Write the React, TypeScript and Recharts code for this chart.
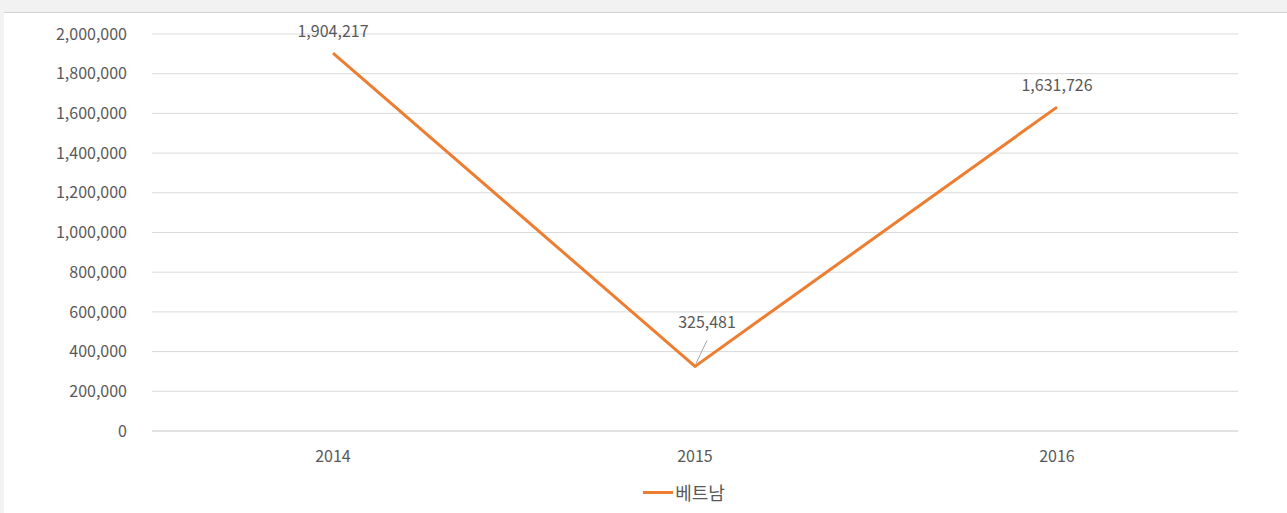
import { LineChart, Line, XAxis, YAxis, CartesianGrid, Legend, LabelList } from "recharts";

const years = ["2014", "2015", "2016"];
const vietnam = [1904217, 325481, 1631726];
const yTicks = [0, 200000, 400000, 600000, 800000, 1000000, 1200000, 1400000, 1600000, 1800000, 2000000];

const data = years.map((year, i) => ({ year, value: vietnam[i] }));

const FONT = "'Malgun Gothic', 'Noto Sans CJK KR', sans-serif";
const TEXT = "#595959";
const ORANGE = "#ED7D31";

const fmt = (v: number) => v.toLocaleString("en-US");

function ValueLabel(props: any) {
  const { x, y, value, index } = props;
  if (index === 1) {
    // low point: label lifted with a thin leader line
    return (
      <g>
        <line x1={x + 1} y1={y - 3} x2={x + 12} y2={y - 26} stroke="#a6a6a6" strokeWidth={1} />
        <text x={x + 12} y={y - 38} textAnchor="middle" fontSize={16} fill={TEXT} fontFamily={FONT}>
          {fmt(value)}
        </text>
      </g>
    );
  }
  return (
    <text x={x} y={y - 16} textAnchor="middle" fontSize={16} fill={TEXT} fontFamily={FONT}>
      {fmt(value)}
    </text>
  );
}

function LegendContent() {
  return (
    <div style={{ display: "flex", justifyContent: "center", alignItems: "center", paddingLeft: 130, paddingTop: 8, fontFamily: FONT, fontSize: 18, color: TEXT }}>
      <span style={{ display: "inline-block", width: 30, height: 3, background: ORANGE, marginRight: 2 }} />
      <span>베트남</span>
    </div>
  );
}

export default function App() {
  return (
    <div style={{ position: "absolute", left: 0, top: 0, width: 1287, height: 513, background: "#f2f2f2", overflow: "hidden" }}>
      <div style={{ position: "absolute", left: 4, top: 12, right: 0, bottom: 0, background: "#ffffff", borderTop: "1px solid #d0d0d0" }} />
      <div style={{ position: "absolute", left: 0, top: 0 }}>
        <LineChart width={1287} height={513} data={data} margin={{ top: 34, right: 49, left: 0, bottom: 0 }}>
          <CartesianGrid vertical={false} stroke="#d9d9d9" />
          <XAxis
            dataKey="year"
            padding={{ left: 181, right: 181 }}
            axisLine={{ stroke: "#d9d9d9" }}
            tickLine={false}
            tickSize={0}
            tickMargin={20}
            height={40}
            tick={{ fill: TEXT, fontSize: 16, fontFamily: FONT }}
          />
          <YAxis
            width={152}
            domain={[0, 2000000]}
            ticks={yTicks}
            tickFormatter={fmt}
            axisLine={false}
            tickLine={false}
            tickSize={0}
            tickMargin={25}
            tick={{ fill: TEXT, fontSize: 16, fontFamily: FONT }}
          />
          <Legend verticalAlign="bottom" height={42} content={<LegendContent />} />
          <Line
            type="linear"
            dataKey="value"
            name="베트남"
            stroke={ORANGE}
            strokeWidth={3}
            dot={false}
            isAnimationActive={false}
          >
            <LabelList dataKey="value" content={<ValueLabel />} />
          </Line>
        </LineChart>
      </div>
    </div>
  );
}
